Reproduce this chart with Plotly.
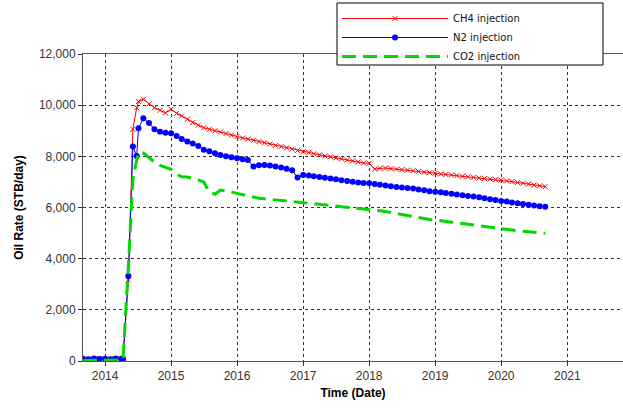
import plotly.graph_objects as go

dates = [
    "2013-09-01", "2013-10-01", "2013-11-01", "2013-12-01", "2014-01-01", "2014-02-01", "2014-03-01", "2014-04-01",
    "2014-04-10", "2014-05-10", "2014-06-04", "2014-06-25", "2014-07-05", "2014-08-01",
    "2014-09-01", "2014-10-01", "2014-11-01", "2014-12-01",
    "2015-01-01", "2015-02-01", "2015-03-01", "2015-04-01", "2015-05-01", "2015-06-01",
    "2015-07-01", "2015-08-01", "2015-09-01", "2015-10-01", "2015-11-01", "2015-12-01",
    "2016-01-01", "2016-02-01", "2016-03-01", "2016-04-01", "2016-05-01", "2016-06-01",
    "2016-07-01", "2016-08-01", "2016-09-01", "2016-10-01", "2016-11-01", "2016-12-01",
    "2017-01-01", "2017-02-01", "2017-03-01", "2017-04-01", "2017-05-01", "2017-06-01",
    "2017-07-01", "2017-08-01", "2017-09-01", "2017-10-01", "2017-11-01", "2017-12-01",
    "2018-01-01", "2018-02-01", "2018-03-01", "2018-04-01", "2018-05-01", "2018-06-01",
    "2018-07-01", "2018-08-01", "2018-09-01", "2018-10-01", "2018-11-01", "2018-12-01",
    "2019-01-01", "2019-02-01", "2019-03-01", "2019-04-01", "2019-05-01", "2019-06-01",
    "2019-07-01", "2019-08-01", "2019-09-01", "2019-10-01", "2019-11-01", "2019-12-01",
    "2020-01-01", "2020-02-01", "2020-03-01", "2020-04-01", "2020-05-01", "2020-06-01",
    "2020-07-01", "2020-08-01", "2020-09-01",
]

ch4_rate = [
    60, 80, 70, 90, 60, 80, 70, 70,
    70, 3170, 9060, 9900, 10140, 10230,
    10050, 9900, 9800, 9700,
    9840, 9680, 9580, 9450, 9320, 9220, 9120, 9060, 9000, 8950, 8890, 8830,
    8770, 8720, 8680, 8630, 8580, 8530, 8480, 8430, 8380, 8330, 8280, 8230,
    8180, 8150, 8100, 8060, 8020, 7980, 7940, 7900, 7860, 7820, 7780, 7740,
    7730, 7500, 7530, 7540, 7520, 7500, 7480, 7460, 7440, 7410, 7380, 7360,
    7340, 7310, 7290, 7270, 7250, 7220, 7200, 7180, 7150, 7130, 7110, 7090,
    7075, 7040, 7010, 6980, 6950, 6920, 6880, 6850, 6815,
]

n2_rate = [
    90, 70, 100, 80, 90, 70, 100, 90,
    80, 3320, 8380, 8015, 9100, 9490,
    9300, 9060, 8965, 8925,
    8900, 8795, 8680, 8580, 8500, 8400, 8260, 8200, 8120, 8050, 8000, 7960,
    7925, 7890, 7860, 7600, 7650, 7660, 7640, 7600, 7560, 7510, 7460, 7170,
    7270, 7250, 7220, 7190, 7160, 7130, 7100, 7070, 7040, 7010, 6980, 6960,
    6945, 6920, 6890, 6860, 6830, 6800, 6780, 6760, 6740, 6700, 6670, 6640,
    6620, 6600, 6570, 6540, 6510, 6480, 6450, 6430, 6400, 6360, 6320, 6290,
    6255, 6230, 6200, 6170, 6140, 6110, 6080, 6050, 6030,
]

co2_rate = [
    20, 20, 20, 20, 20, 20, 20, 30,
    40, 3700, 7100, 7860, 8140, 8130,
    7950, 7780, 7650, 7560,
    7490, 7300, 7200, 7190, 7150, 7080, 7000, 6600, 6520, 6680, 6650, 6600,
    6555, 6500, 6450, 6380, 6360, 6340, 6320, 6300, 6290, 6270, 6250, 6220,
    6190, 6180, 6160, 6140, 6110, 6080, 6060, 6030, 6010, 5990, 5960, 5940,
    5930, 5900, 5870, 5840, 5800, 5760, 5720, 5680, 5650, 5600, 5560, 5530,
    5510, 5480, 5450, 5420, 5390, 5360, 5330, 5300, 5270, 5240, 5210, 5180,
    5150, 5130, 5110, 5090, 5070, 5050, 5030, 5010, 4990,
]

series_names = ["CH4 injection", "N2 injection", "CO2 injection"]
year_ticks = ["2014-01-01", "2015-01-01", "2016-01-01", "2017-01-01",
              "2018-01-01", "2019-01-01", "2020-01-01", "2021-01-01"]
year_labels = ["2014", "2015", "2016", "2017", "2018", "2019", "2020", "2021"]
rate_ticks = [0, 2000, 4000, 6000, 8000, 10000, 12000]

fig = go.Figure()
fig.add_trace(go.Scatter(
    x=dates, y=ch4_rate, name=series_names[0], mode="lines+markers",
    line=dict(color="#ff0000", width=1),
    marker=dict(symbol="x-thin", size=5, color="#ff0000",
                line=dict(color="#ff0000", width=1)),
))
fig.add_trace(go.Scatter(
    x=dates, y=n2_rate, name=series_names[1], mode="lines+markers",
    line=dict(color="#0000ff", width=1),
    marker=dict(symbol="circle", size=6, color="#0000ff"),
))
fig.add_trace(go.Scatter(
    x=dates, y=co2_rate, name=series_names[2], mode="lines",
    line=dict(color="#00d800", width=3, dash="14px,7px"),
))

axis_font = dict(family="Liberation Sans, Arial, sans-serif", size=12, color="#333")
title_font = dict(family="Liberation Sans, Arial, sans-serif", size=12, color="#000")

# plot area in page pixels: x 83..623, y 54..361
def px_x(p):
    return (p - 83) / 540

def px_y(p):
    return (361 - p) / 307

fig.update_layout(
    width=623, height=409,
    margin=dict(l=83, r=0, t=54, b=48),
    paper_bgcolor="white", plot_bgcolor="white",
    showlegend=True,
    legend=dict(
        x=px_x(337), y=px_y(4), xanchor="left", yanchor="top",
        bgcolor="rgba(0,0,0,0)", borderwidth=0,
        font=dict(family="DejaVu Sans, Verdana, sans-serif", size=10, color="#111"),
        itemwidth=106, tracegroupgap=0,
    ),
    shapes=[dict(
        type="rect", xref="paper", yref="paper", layer="above",
        x0=px_x(337), x1=px_x(603), y0=px_y(65), y1=px_y(3),
        fillcolor="white", line=dict(color="black", width=1),
    )],
    xaxis=dict(
        type="date", range=["2013-09-01", "2021-11-05"],
        tickvals=year_ticks, ticktext=year_labels,
        showgrid=True, gridcolor="#333", griddash="3px,3px", gridwidth=1,
        showline=True, linecolor="#555", linewidth=1, mirror=True,
        ticks="outside", ticklen=4, tickcolor="#333",
        tickfont=axis_font, zeroline=False,
        title=dict(text="<b>Time (Date)</b>", font=title_font, standoff=6),
    ),
    yaxis=dict(
        range=[0, 12000], tickvals=rate_ticks, tickformat=",d",
        showgrid=True, gridcolor="#333", griddash="3px,3px", gridwidth=1,
        showline=True, linecolor="#555", linewidth=1,
        ticks="outside", ticklen=4, tickcolor="#333",
        tickfont=axis_font, zeroline=False,
        title=dict(text="<b>Oil Rate (STB/day)</b>", font=title_font, standoff=12),
    ),
)

fig.write_html("out.html", config={"displayModeBar": False},
               post_script="document.body.style.margin='0';")
